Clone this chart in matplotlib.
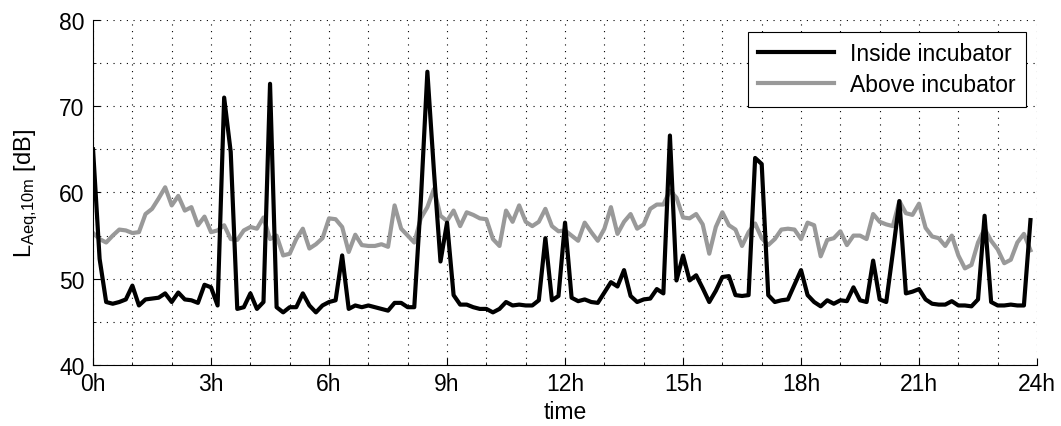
import numpy as np
import matplotlib
matplotlib.use("Agg")
import matplotlib.pyplot as plt
from matplotlib.ticker import MultipleLocator

# 10-minute equivalent levels, 144 samples over 24h
inside = [
    65.0, 52.3, 47.3, 47.1, 47.3, 47.6, 49.2, 46.9, 47.6, 47.7, 47.8, 48.3,
    47.3, 48.4, 47.6, 47.5, 47.2, 49.3, 49.0, 46.9, 71.0, 64.7, 46.5, 46.7,
    48.3, 46.5, 47.3, 72.6, 46.7, 46.1, 46.7, 46.7, 48.3, 46.9, 46.1, 46.9,
    47.3, 47.5, 52.7, 46.5, 46.9, 46.7, 46.9, 46.7, 46.5, 46.3, 47.2, 47.2,
    46.7, 46.7, 59.0, 74.0, 62.5, 52.0, 56.5, 48.1, 47.0, 47.0, 46.7, 46.5,
    46.5, 46.1, 46.5, 47.3, 46.9, 47.0, 46.9, 46.9, 47.5, 54.7, 47.5, 48.0,
    56.5, 47.8, 47.4, 47.6, 47.3, 47.2, 48.4, 49.6, 49.1, 51.0, 48.0, 47.3,
    47.6, 47.7, 48.8, 48.3, 66.6, 49.8, 52.7, 49.8, 50.4, 48.9, 47.3, 48.6,
    50.2, 50.3, 48.1, 48.0, 48.1, 64.0, 63.3, 48.1, 47.3, 47.5, 47.6, 49.3,
    51.0, 48.1, 47.3, 46.8, 47.5, 47.1, 47.5, 47.4, 49.0, 47.5, 47.3, 52.1,
    47.6, 47.3, 53.0, 59.0, 48.3, 48.5, 48.8, 47.6, 47.1, 47.0, 47.0, 47.4,
    46.9, 46.9, 46.8, 47.6, 57.3, 47.3, 46.9, 46.9, 47.0, 46.9, 46.9, 56.8,
]
above = [
    55.3, 54.6, 54.2, 55.0, 55.7, 55.6, 55.3, 55.4, 57.5, 58.1, 59.3, 60.6,
    58.5, 59.6, 57.9, 58.3, 56.2, 57.2, 55.4, 55.6, 56.2, 54.6, 54.5, 55.6,
    56.0, 55.8, 57.1, 54.6, 55.0, 52.7, 52.9, 54.6, 55.8, 53.5, 54.0, 54.7,
    57.0, 56.9, 56.0, 53.1, 55.1, 53.9, 53.8, 53.8, 54.0, 53.7, 58.5, 55.8,
    55.0, 54.2, 57.0, 58.3, 60.4, 57.3, 56.7, 57.9, 56.1, 57.7, 57.4, 57.0,
    56.9, 54.6, 53.8, 57.9, 56.6, 58.5, 56.6, 56.1, 56.6, 58.1, 56.1, 55.5,
    55.6, 55.0, 54.4, 56.5, 55.4, 54.4, 55.8, 58.3, 55.2, 56.6, 57.5, 55.8,
    56.3, 58.1, 58.6, 58.6, 60.2, 59.4, 57.1, 57.0, 57.5, 56.3, 52.9, 56.0,
    57.7, 56.2, 55.7, 53.8, 55.4, 56.4, 54.7, 53.9, 54.6, 55.7, 55.8, 55.7,
    54.6, 56.5, 56.2, 52.6, 54.5, 54.7, 55.5, 53.9, 55.0, 55.0, 54.6, 57.5,
    56.6, 56.3, 56.1, 59.0, 57.6, 57.4, 58.7, 55.9, 54.9, 54.7, 53.8, 55.0,
    52.7, 51.2, 51.6, 54.2, 55.8, 54.4, 53.4, 51.8, 52.2, 54.2, 55.2, 53.3,
]
hours = np.arange(len(inside)) / 6.0

xticks = list(range(0, 25, 3))
xlabels = [f"{h}h" for h in xticks]
yticks = [40, 50, 60, 70, 80]

plt.rcParams["font.family"] = ["Liberation Sans", "DejaVu Sans"]
plt.rcParams["mathtext.fontset"] = "custom"
plt.rcParams["mathtext.rm"] = "Liberation Sans"
plt.rcParams["mathtext.it"] = "Liberation Sans"

fig = plt.figure(figsize=(10.61, 4.27), dpi=100)
ax = fig.add_axes([0.0877, 0.1429, 0.8897, 0.808])

ax.plot(hours, inside, color="black", lw=3.0, label="Inside incubator", zorder=3)
ax.plot(hours, above, color="#999999", lw=3.0, label="Above incubator", zorder=2)

ax.set_xlim(0, 24); ax.set_ylim(40, 80)
ax.set_xticks(xticks); ax.set_xticklabels(xlabels)
ax.set_yticks(yticks)
ax.xaxis.set_minor_locator(MultipleLocator(1))
ax.yaxis.set_minor_locator(MultipleLocator(5))
dots = dict(color="black", linestyle=(0, (1, 5)), linewidth=0.8)
ax.grid(True, which="both", **dots)
ax.set_axisbelow(True)

for s in ("top", "right"):
    ax.spines[s].set_visible(False)
ax.tick_params(which="both", direction="in", labelsize=16.5, top=False, right=False)
ax.tick_params(which="major", length=5)
ax.tick_params(which="minor", length=2.5)
ax.tick_params(axis="x", pad=5)
ax.tick_params(axis="y", pad=6)

ax.set_xlabel("time", fontsize=16.5, labelpad=4)
ax.set_ylabel(r"$\mathregular{L_{Aeq{,}10m}}$ [dB]", fontsize=17, labelpad=14)

leg = ax.legend(loc="upper right", bbox_to_anchor=(0.988, 0.965), borderaxespad=0,
                fancybox=False, edgecolor="black", framealpha=1, fontsize=16.5,
                handlelength=3.3, handletextpad=0.7, labelspacing=0.35, borderpad=0.45)
leg.get_frame().set_linewidth(0.8)

fig.savefig("out.png", dpi=100)
